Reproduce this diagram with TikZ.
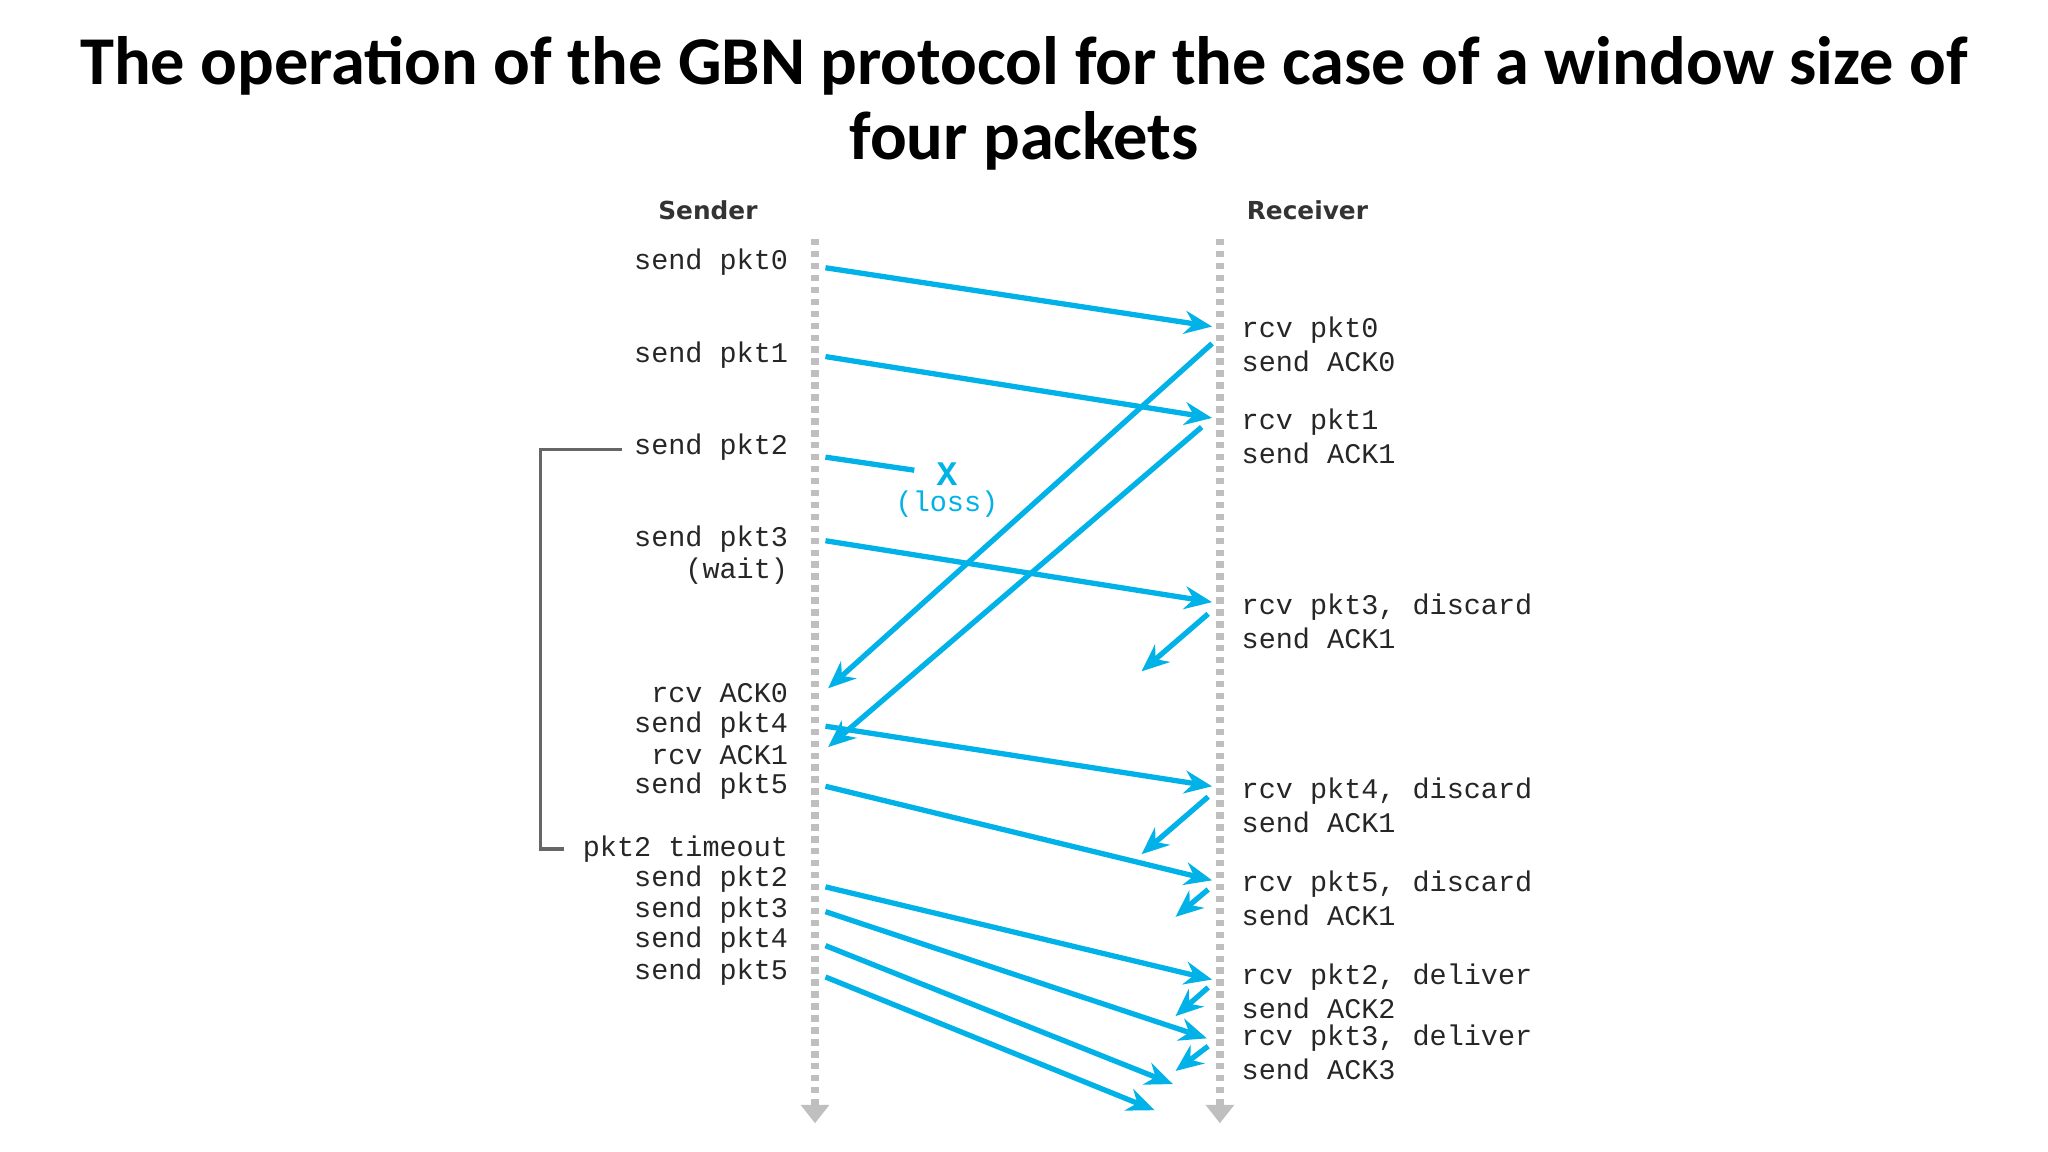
\documentclass[tikz,border=0pt]{standalone}
\usepackage{fontspec}
\setmainfont{Carlito}
\newfontfamily\monofont{Liberation Mono}
\newfontfamily\headfont{DejaVu Sans}
\usetikzlibrary{arrows.meta}
\definecolor{cy}{RGB}{0,178,232}
\tikzset{
 msg/.style={cy,line width=1.15pt,-{Stealth[length=6pt,width=5pt]}},
 lbl/.style={font=\monofont\fontsize{6.2}{7}\selectfont,inner sep=0pt,text=black!85},
 sl/.style={lbl,anchor=east},
 rl/.style={lbl,anchor=west},
 tl/.style={gray!50,line width=1.6pt,dash pattern=on 1.4pt off 1.2pt,-{Triangle[length=4pt,width=6pt]}}
}
\begin{document}
\begin{tikzpicture}[x=0.01cm,y=-0.01cm]
\useasboundingbox (0,0) rectangle (1568,882);
\node[font=\bfseries\fontsize{14.9}{16.3}\selectfont,align=center] (title) at (784,79) {The operation of the GBN protocol for the case of a window size of\\four packets};
\node[font=\headfont\bfseries\fontsize{5.4}{6}\selectfont,text=black!80] (snd) at (542,161) {Sender};
\node[font=\headfont\bfseries\fontsize{5.4}{6}\selectfont,text=black!80] (rcv) at (1001,161) {Receiver};
\coordinate (st) at (624,183); \coordinate (sb) at (624,860);
\coordinate (rt) at (934,183); \coordinate (rb) at (934,860);
\draw[tl] (st) -- (sb);
\draw[tl] (rt) -- (rb);
\foreach \y/\t in {201/send pkt0,272/send pkt1,342/send pkt2,413/send pkt3,437/(wait),531/rcv ACK0,555/send pkt4,578/rcv ACK1,602/send pkt5,650/pkt2 timeout,673/send pkt2,697/send pkt3,720/send pkt4,744/send pkt5}
  \node[sl] at (604,\y) {\t};
\foreach \y/\t in {253/rcv pkt0,277/send ACK0,323/rcv pkt1,347/send ACK1,465/{rcv pkt3, discard},489/send ACK1,606/{rcv pkt4, discard},630/send ACK1,677/{rcv pkt5, discard},701/send ACK1,748/{rcv pkt2, deliver},772/send ACK2,795/{rcv pkt3, deliver},819/send ACK3}
  \node[rl] at (950,\y) {\t};
\coordinate (b1) at (476,344); \coordinate (b4) at (432,650);
\draw[gray!80!black,line width=0.7pt] (b1) -- (414,344) -- (414,650) -- (b4);
\draw[msg] (632,205) -- (928,250);
\draw[msg] (928,263) -- (634,527);
\draw[msg] (632,273) -- (928,320);
\draw[msg] (920,327) -- (634,572);
\draw[cy,line width=1.15pt] (632,350) -- (700,360);
\node[cy,font=\monofont\bfseries\fontsize{7.5}{8}\selectfont,inner sep=0pt] (x) at (725,363) {X};
\node[lbl,text=cy] (loss) at (725,386) {(loss)};
\draw[msg] (632,414) -- (928,461);
\draw[msg] (925,470) -- (874,514);
\draw[msg] (632,556) -- (928,602);
\draw[msg] (925,610) -- (874,654);
\draw[msg] (632,602) -- (928,674);
\draw[msg] (925,681) -- (900,702);
\draw[msg] (632,679) -- (928,750);
\draw[msg] (925,756) -- (900,778);
\draw[msg] (632,698) -- (924,795);
\draw[msg] (925,801) -- (900,820);
\draw[msg] (632,724) -- (898,830);
\draw[msg] (632,748) -- (884,850);
\end{tikzpicture}
\end{document}
